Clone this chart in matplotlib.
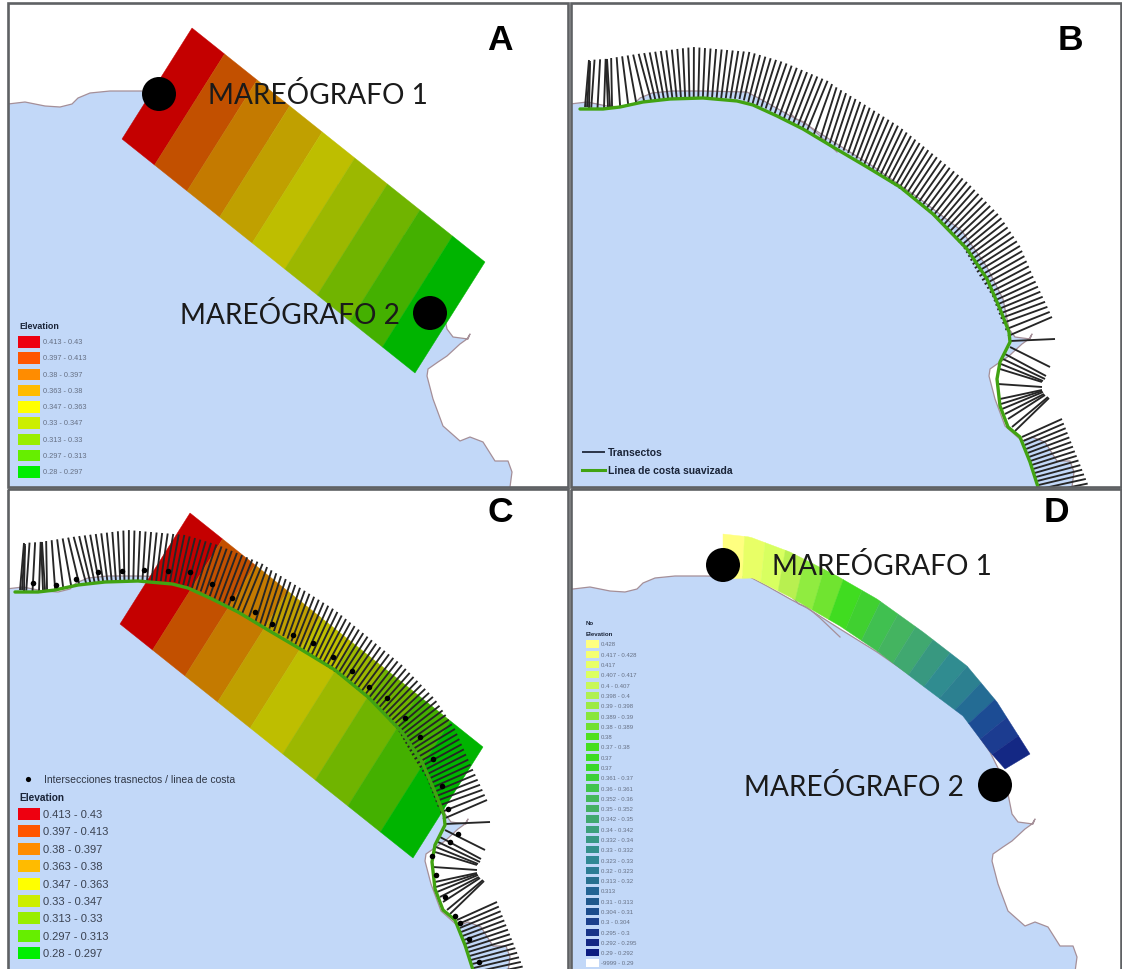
import numpy as np
import matplotlib
matplotlib.use("Agg")
import matplotlib.pyplot as plt
from matplotlib.patches import Polygon, Rectangle, Circle

# ---------- data (pixel-like map coordinates) ----------
coast_x = [-40, 8, 25, 45, 60, 72, 78, 90, 110, 140, 185, 202, 225, 242, 275, 312, 358, 400, 425, 441, 447,
           453, 468, 470, 467, 460, 447, 438, 428, 427, 433, 443, 460, 470, 483, 495, 508, 512, 510, 505]
coast_y = [105, 105, 103, 107, 108, 105, 99, 94, 92, 92, 93, 102, 115, 124, 145, 168, 200, 232, 268, 300, 330,
           338, 340, 335, 340, 345, 357, 363, 370, 377, 400, 427, 442, 438, 443, 462, 462, 473, 488, 520]
spit_x = [228, 234, 242, 255, 275]
spit_y = [114, 120, 123, 134, 153]

smooth_x = [580, 603, 620, 643, 670, 703, 737, 753, 777, 803, 833, 867, 900, 933, 967, 987, 1000, 1009, 1010,
            1000, 997, 1000, 1008, 1020, 1030, 1038, 1046]
smooth_y = [110, 110, 108, 103, 100, 99, 102, 106, 117, 130, 148, 168, 188, 215, 250, 280, 310, 333, 343,
            363, 380, 407, 428, 438, 463, 488, 510]

base_x = [585, 603, 650, 693, 740, 767, 807, 820, 850, 878, 907, 937, 963, 977, 992, 1002, 1008]
base_y = [108, 110, 102, 98, 100, 110, 133, 139, 155, 175, 195, 220, 248, 273, 297, 323, 337]
tip_x = [589, 605, 637, 693, 750, 783, 828, 836, 867, 900, 933, 967, 1000, 1020, 1033, 1047, 1052]
tip_y = [61, 60, 55, 48, 53, 63, 82, 88, 107, 128, 155, 183, 217, 247, 277, 307, 318]
n_transects = 105

fan_base_x = [1010, 1010, 1005, 1003, 1001, 1000, 998, 1000, 1001, 1002, 1005, 1008, 1012, 1015, 587, 589, 608, 610]
fan_base_y = [342, 348, 355, 360, 365, 370, 385, 400, 405, 410, 415, 420, 428, 432, 108, 109, 108, 108]
fan_tip_x = [1055, 1050, 1046, 1045, 1043, 1042, 1042, 1042, 1042, 1043, 1044, 1045, 1048, 1049, 590, 590, 606, 607]
fan_tip_y = [340, 368, 377, 380, 382, 383, 388, 391, 392, 393, 395, 396, 398, 399, 62, 64, 60, 60]

south_base_x = [1022, 1047]
south_base_y = [438, 510]
south_tip_x = [1062, 1095]
south_tip_y = [420, 503]
n_south = 19

dots_x = [33, 56, 76, 98, 122, 144, 168, 190, 212, 232, 255, 272, 293, 313, 333, 352, 369, 387, 405, 420, 433,
          442, 448, 458, 450, 432, 436, 445, 455, 460, 469, 479]
dots_y = [584, 586, 580, 573, 572, 571, 572, 573, 585, 599, 613, 625, 636, 644, 658, 672, 688, 699, 719, 738, 760,
          787, 810, 835, 843, 857, 876, 898, 917, 924, 940, 963]

grid_corner_x = [192, 485, 415, 122]
grid_corner_y = [29, 263, 374, 140]
grid_colors = ['#C40000', '#C25000', '#C47A00', '#C0A000', '#BEBE00', '#9CB800', '#70B400', '#44B000', '#00B400']

elev_labels = ['0.413 - 0.43', '0.397 - 0.413', '0.38 - 0.397', '0.363 - 0.38', '0.347 - 0.363',
               '0.33 - 0.347', '0.313 - 0.33', '0.297 - 0.313', '0.28 - 0.297']
elev_colors = ['#EE0010', '#FF5500', '#FF8C00', '#FFBB00', '#FFFF00', '#CCEE00', '#99EE00', '#66EE00', '#00EE00']

strip_outer_x = [723, 750, 790, 837, 877, 923, 967, 997, 1030]
strip_outer_y = [535, 538, 553, 577, 600, 633, 667, 703, 755]
strip_inner_x = [723, 753, 790, 840, 877, 923, 963, 990, 1005]
strip_inner_y = [580, 579, 598, 627, 652, 687, 717, 753, 770]
strip_colors = ['#FFFF80', '#E8FF66', '#D8FF60', '#B8F050', '#90EC40', '#70E430', '#40DC20', '#40D030', '#40C050',
                '#44B460', '#40A870', '#389880', '#308C90', '#2C8090', '#246C94', '#1C4C94', '#1C3C90', '#142884']

d_labels = ['0.428', '0.417 - 0.428', '0.417', '0.407 - 0.417', '0.4 - 0.407', '0.398 - 0.4', '0.39 - 0.398',
            '0.389 - 0.39', '0.38 - 0.389', '0.38', '0.37 - 0.38', '0.37', '0.37', '0.361 - 0.37', '0.36 - 0.361',
            '0.352 - 0.36', '0.35 - 0.352', '0.342 - 0.35', '0.34 - 0.342', '0.332 - 0.34', '0.33 - 0.332',
            '0.323 - 0.33', '0.32 - 0.323', '0.313 - 0.32', '0.313', '0.31 - 0.313', '0.304 - 0.31', '0.3 - 0.304',
            '0.295 - 0.3', '0.292 - 0.295', '0.29 - 0.292', '-9999 - 0.29']
d_colors = ['#FFFF7F', '#F5FF70', '#E8FF66', '#DCFF60', '#C8F858', '#B0F050', '#9CEA44', '#88E63C', '#70E030',
            '#50E020', '#44DE20', '#3CDC24', '#38D828', '#3CD038', '#40C44C', '#44B85C', '#44B064', '#40A870',
            '#3CA07C', '#389884', '#34908C', '#308894', '#2C7C94', '#287090', '#246494', '#20588C', '#1C4C8C',
            '#1C408C', '#183488', '#142884', '#0C1C80', '#FFFFFF']

# ---------- style ----------
SEA = '#C2D8F8'
COAST = '#A58F98'
GREEN = '#41A312'
TXT = '#667084'
DARK = '#1A2438'
SANS = 'Liberation Sans'

fig = plt.figure(figsize=(11.22, 9.70), dpi=100)
ax = fig.add_axes([0, 0, 1, 1])
ax.set_xlim(0, 1122)
ax.set_ylim(970, 0)
ax.axis('off')


def panel_clip(x0, y0, x1, y1):
    r = Rectangle((x0, y0), x1 - x0, y1 - y0, transform=ax.transData, fill=False, ec='none')
    ax.add_patch(r)
    return r


def add_sea(dx, dy, clip):
    xs = np.r_[coast_x, -40] + dx
    ys = np.r_[coast_y, 520] + dy
    p = Polygon(np.c_[xs, ys], closed=True, fc=SEA, ec='none', zorder=1)
    ax.add_patch(p)
    p.set_clip_path(clip)
    for lx, ly in ((coast_x, coast_y), (spit_x, spit_y)):
        l, = ax.plot(np.array(lx) + dx, np.array(ly) + dy, color=COAST, lw=0.9, zorder=2)
        l.set_clip_path(clip)


def add_grid(dx, dy, clip):
    c = np.c_[grid_corner_x, grid_corner_y].astype(float)
    n = len(grid_colors)
    for i, col in enumerate(grid_colors):
        a0, a1 = i / n, (i + 1) / n
        top0, top1 = c[0] + (c[1] - c[0]) * a0, c[0] + (c[1] - c[0]) * a1
        bot0, bot1 = c[3] + (c[2] - c[3]) * a0, c[3] + (c[2] - c[3]) * a1
        p = Polygon(np.array([top0, top1, bot1, bot0]) + [dx, dy], closed=True, fc=col, ec=col, lw=0.3, zorder=3)
        ax.add_patch(p)
        p.set_clip_path(clip)


def sample_transects():
    bx, by, tx, ty = map(np.array, (base_x, base_y, tip_x, tip_y))
    s = np.r_[0, np.cumsum(np.hypot(np.diff(tx), np.diff(ty)))]
    q = np.linspace(0, s[-1], n_transects)
    segs = [np.interp(q, s, v) for v in (bx, by, tx, ty)]
    segs = [np.r_[a, b] for a, b in zip(segs, (fan_base_x, fan_base_y, fan_tip_x, fan_tip_y))]
    t = np.linspace(0, 1, n_south)
    south = [a + (b - a) * t for a, b in ((south_base_x[0], south_base_x[1]), (south_base_y[0], south_base_y[1]),
                                          (south_tip_x[0], south_tip_x[1]), (south_tip_y[0], south_tip_y[1]))]
    return [np.r_[a, b] for a, b in zip(segs, south)]


def add_transects(dx, dy, clip):
    bx, by, tx, ty = sample_transects()
    for a, b, c, d in zip(bx, by, tx, ty):
        l, = ax.plot([a + dx, c + dx], [b + dy, d + dy], color='#262626', lw=1.35,
                     zorder=4, solid_capstyle='butt')
        l.set_clip_path(clip)
    l, = ax.plot(np.array(smooth_x) + dx, np.array(smooth_y) + dy, color=GREEN, lw=2.4, zorder=5,
                 solid_capstyle='round')
    l.set_clip_path(clip)


def add_elev_legend(x, y_title, y_first, step, h, fs, fs_title, color):
    ax.text(x + 1, y_title, 'Elevation', fontsize=fs_title, fontweight='bold', color=DARK, family=SANS,
            va='center', zorder=8)
    for i, (lab, col) in enumerate(zip(elev_labels, elev_colors)):
        ax.add_patch(Rectangle((x, y_first + i * step), 22, h, fc=col, ec='none', zorder=8))
        ax.text(x + 25, y_first + i * step + h / 2, lab, fontsize=fs, color=color, family=SANS,
                va='center', zorder=8)


def big_label(x, y, s):
    ax.text(x, y + 2, s, fontsize=20.2, family='Lato', color='#1a1a1a', va='center', ha='left', zorder=9)


def letter(x, y, s):
    ax.text(x, y, s, fontsize=25.5, family=SANS, fontweight='bold', color='black', va='center', ha='center', zorder=9)


# panels (x0, y0, x1, y1)
clipA = panel_clip(8, 4, 568, 488)
clipB = panel_clip(571, 4, 1121, 488)
clipC = panel_clip(8, 490, 568, 972)
clipD = panel_clip(571, 490, 1121, 972)

# A
add_sea(0, 0, clipA)
add_grid(0, 0, clipA)
ax.add_patch(Circle((159, 95), 17, fc='black', ec='none', zorder=7))
ax.add_patch(Circle((430, 314), 17, fc='black', ec='none', zorder=7))
big_label(208, 94, 'MAREÓGRAFO 1')
big_label(180, 314, 'MAREÓGRAFO 2')
add_elev_legend(18, 327, 337, 16.25, 11.5, 5.3, 6.4, TXT)
letter(500, 40, 'A')

# B
add_sea(562, 0, clipB)
add_transects(0, 0, clipB)
ax.plot([583, 604], [453, 453], color='#2A3448', lw=1.4, zorder=8)
ax.plot([582, 605], [471, 471], color=GREEN, lw=2.2, zorder=8)
ax.text(608, 453, 'Transectos', fontsize=7.5, fontweight='bold', color=DARK, family=SANS, va='center', zorder=8)
ax.text(608, 471, 'Linea de costa suavizada', fontsize=7.5, fontweight='bold', color=DARK, family=SANS,
        va='center', zorder=8)
letter(1070, 40, 'B')

# C
add_sea(-2, 485, clipC)
add_grid(-2, 485, clipC)
add_transects(-565, 483, clipC)
dd = ax.scatter(dots_x, dots_y, s=16, color='black', linewidths=0, zorder=6)
dd.set_clip_path(clipC)
ax.scatter([28], [780], s=14, color='black', linewidths=0, zorder=8)
ax.text(44, 780, 'Intersecciones trasnectos / linea de costa', fontsize=7.5, color='#2F3644', family=SANS,
        va='center', zorder=8)
add_elev_legend(18, 798, 809, 17.4, 12, 8.0, 7.3, '#3A4150')
letter(500, 512, 'C')

# D
add_sea(565, 485, clipD)
ox, oy, ix, iy = map(np.array, (strip_outer_x, strip_outer_y, strip_inner_x, strip_inner_y))
s_o = np.r_[0, np.cumsum(np.hypot(np.diff(ox), np.diff(oy)))]
s_i = np.r_[0, np.cumsum(np.hypot(np.diff(ix), np.diff(iy)))]
nb = len(strip_colors)
for i, col in enumerate(strip_colors):
    t = np.linspace(i / nb, (i + 1) / nb, 7)
    outer = np.c_[np.interp(t * s_o[-1], s_o, ox), np.interp(t * s_o[-1], s_o, oy)]
    inner = np.c_[np.interp(t * s_i[-1], s_i, ix), np.interp(t * s_i[-1], s_i, iy)]
    ax.add_patch(Polygon(np.r_[outer, inner[::-1]], closed=True, fc=col, ec=col, lw=0.3, zorder=3))
ax.add_patch(Circle((723, 566), 17, fc='black', ec='none', zorder=7))
ax.add_patch(Circle((995, 786), 17, fc='black', ec='none', zorder=7))
big_label(772, 565, 'MAREÓGRAFO 1')
big_label(744, 786, 'MAREÓGRAFO 2')
ax.text(586, 624, 'No', fontsize=4.4, fontweight='bold', color=DARK, family=SANS, va='center', zorder=8)
ax.text(586, 635, 'Elevation', fontsize=4.4, fontweight='bold', color=DARK, family=SANS, va='center', zorder=8)
for i, (lab, col) in enumerate(zip(d_labels, d_colors)):
    yc = 645 + i * 10.29
    ax.add_patch(Rectangle((586, yc - 3.6), 13, 7.2, fc=col, ec='none', zorder=8))
    ax.text(601, yc, lab, fontsize=4.3, color=TXT, family=SANS, va='center', zorder=8)
letter(1056, 512, 'D')

# panel frames
for (x0, y0, x1, y1) in [(8, 4, 568, 488), (571, 4, 1121, 488), (8, 490, 568, 975), (571, 490, 1121, 975)]:
    ax.add_patch(Rectangle((x0, y0), x1 - x0, y1 - y0, fill=False, ec='#5F6164', lw=1.9, zorder=10))

fig.savefig('out.png', dpi=100, facecolor='white')
